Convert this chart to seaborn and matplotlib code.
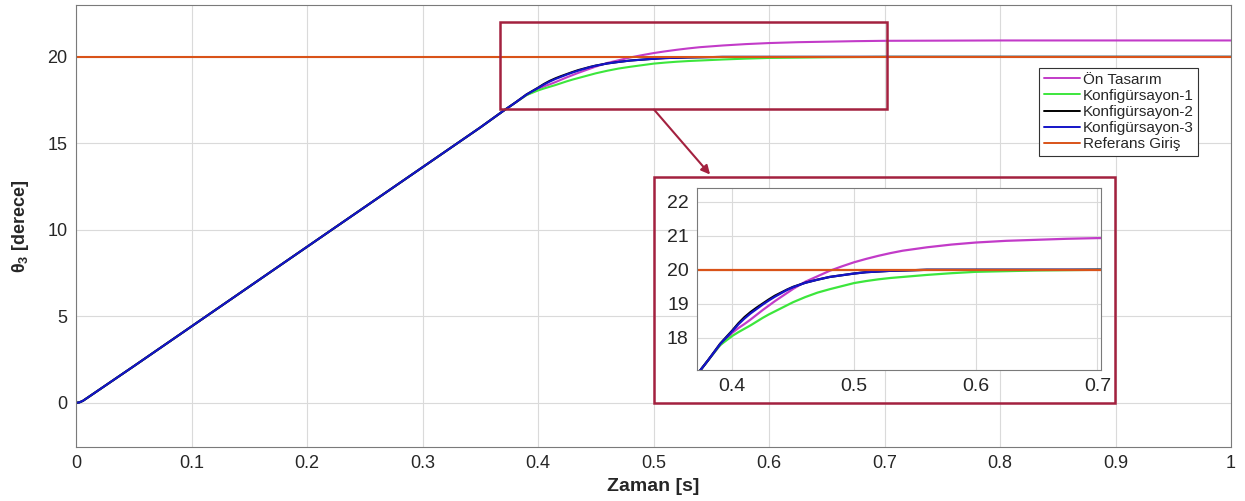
import matplotlib
matplotlib.use("Agg")
import matplotlib.pyplot as plt
import seaborn as sns
from matplotlib.patches import Rectangle
from matplotlib.ticker import FixedLocator, FuncFormatter

# ---------------- data ----------------
time_s = [0.000, 0.003, 0.006, 0.010, 0.050, 0.100, 0.150, 0.200, 0.250, 0.300,
          0.350, 0.370, 0.380, 0.390, 0.400, 0.405, 0.410, 0.415, 0.420, 0.425,
          0.430, 0.435, 0.440, 0.445, 0.450, 0.460, 0.470, 0.480, 0.490, 0.500,
          0.510, 0.520, 0.530, 0.540, 0.550, 0.560, 0.580, 0.600, 0.625, 0.650,
          0.675, 0.700, 0.750, 0.800, 0.900, 1.000]

ramp_part = [0.00, 0.03, 0.12, 0.30, 2.12, 4.42, 6.72, 9.02, 11.32, 13.62,
             15.92, 16.88, 17.34]

on_tasarim = ramp_part + [
    17.79, 18.15, 18.29, 18.41, 18.54, 18.68, 18.82, 18.95, 19.08, 19.20,
    19.32, 19.44, 19.65, 19.81, 19.97, 20.10, 20.22, 20.32, 20.41, 20.49,
    20.56, 20.61, 20.66, 20.74, 20.80, 20.85, 20.88, 20.91, 20.93, 20.94,
    20.95, 20.95, 20.95]

konfig_1 = ramp_part + [
    17.79, 18.06, 18.17, 18.27, 18.37, 18.48, 18.59, 18.69, 18.78, 18.87,
    18.96, 19.05, 19.20, 19.33, 19.43, 19.52, 19.61, 19.67, 19.72, 19.76,
    19.79, 19.82, 19.85, 19.90, 19.94, 19.96, 19.98, 19.99, 20.00, 20.00,
    20.00, 20.00, 20.00]

konfig_2 = ramp_part + [
    17.83, 18.22, 18.43, 18.61, 18.76, 18.89, 19.01, 19.13, 19.24, 19.33,
    19.42, 19.50, 19.62, 19.71, 19.79, 19.84, 19.89, 19.93, 19.95, 19.97,
    19.98, 19.99, 20.00, 20.00, 20.00, 20.00, 20.00, 20.00, 20.00, 20.00,
    20.00, 20.00, 20.00]

konfig_3 = ramp_part + [
    17.82, 18.20, 18.40, 18.57, 18.72, 18.85, 18.98, 19.10, 19.21, 19.31,
    19.41, 19.49, 19.62, 19.71, 19.79, 19.84, 19.89, 19.93, 19.95, 19.97,
    19.98, 19.99, 20.00, 20.00, 20.00, 20.00, 20.00, 20.00, 20.00, 20.00,
    20.00, 20.00, 20.00]

ref_time = [0.0, 1.0]
ref_value = [20.0, 20.0]

series_labels = ["Ön Tasarım", "Konfigürsayon-1", "Konfigürsayon-2",
                 "Konfigürsayon-3", "Referans Giriş"]
series_colors = ["#C23BC8", "#3CE63C", "#000000", "#1414C8", "#D95319"]

main_xticks = [0, 0.1, 0.2, 0.3, 0.4, 0.5, 0.6, 0.7, 0.8, 0.9, 1.0]
main_yticks = [0, 5, 10, 15, 20]
inset_xticks = [0.4, 0.5, 0.6, 0.7]
inset_yticks = [18, 19, 20, 21, 22]

# ---------------- style ----------------
sns.set_theme(style="whitegrid")
plt.rcParams['font.family'] = ['Liberation Sans', 'DejaVu Sans']
plt.rcParams['mathtext.fontset'] = 'custom'
plt.rcParams['mathtext.rm'] = 'Liberation Sans'
plt.rcParams['mathtext.bf'] = 'Liberation Sans:bold'

box_color = "#A3213F"
grid_color = "#DADADA"
spine_color = "#7A7A7A"
tick_color = "#262626"

fig = plt.figure(figsize=(12.45, 5.01), dpi=100)
ax = fig.add_axes([76/1245, 1 - 447/501, (1231 - 76)/1245, (447 - 5)/501])
ax.set_facecolor("white")

series_y = [on_tasarim, konfig_1, konfig_2, konfig_3]


def draw_all(target, lw):
    for yv, lab, col in zip(series_y, series_labels[:4], series_colors[:4]):
        sns.lineplot(x=time_s, y=yv, ax=target, color=col, lw=lw, label=lab,
                     sort=False, estimator=None, legend=False)
    sns.lineplot(x=ref_time, y=ref_value, ax=target, color=series_colors[4],
                 lw=lw, label=series_labels[4], sort=False, estimator=None,
                 legend=False)


draw_all(ax, 1.5)

ax.set_xlim(0, 1)
ax.set_ylim(-2.55, 23.0)
ax.xaxis.set_major_locator(FixedLocator(main_xticks))
ax.yaxis.set_major_locator(FixedLocator(main_yticks))
fmt = FuncFormatter(lambda v, _: f"{v:g}")
ax.xaxis.set_major_formatter(fmt)
ax.yaxis.set_major_formatter(fmt)
ax.tick_params(axis='both', labelsize=13, colors=tick_color, direction='in',
               length=4, width=0.6, pad=6)
ax.grid(True, color=grid_color, lw=0.8)
for sp in ax.spines.values():
    sp.set_color(spine_color)
    sp.set_linewidth(0.8)

ax.set_xlabel("Zaman [s]", fontsize=14, fontweight='bold', color=tick_color,
              labelpad=4)
ax.set_ylabel(r"θ$_{\mathbf{3}}$ [derece]", fontsize=13, fontweight='bold',
              color=tick_color, labelpad=12)

# zoom box in main axes
ax.add_patch(Rectangle((0.367, 17.0), 0.335, 5.0, fill=False,
                       edgecolor=box_color, lw=1.8, zorder=5))

# arrow
ax.annotate("", xy=(0.549, 13.2), xytext=(0.5005, 16.95),
            arrowprops=dict(arrowstyle='-|>', color=box_color, lw=1.5,
                            mutation_scale=13, shrinkA=0, shrinkB=0),
            zorder=6)

# legend
handles = [plt.Line2D([], [], color=c, lw=1.4) for c in series_colors]
leg = ax.legend(handles, series_labels, loc='upper left',
                bbox_to_anchor=(1039/1245, 1 - 68/501),
                bbox_transform=fig.transFigure, fontsize=11,
                frameon=True, fancybox=False, edgecolor='#333333',
                framealpha=1, borderpad=0.3, labelspacing=0.14,
                handlelength=2.4, handletextpad=0.15, borderaxespad=0)
leg.get_frame().set_linewidth(0.8)

# outer frame of the inset
fig.add_artist(Rectangle((654/1245, 1 - 403/501), (1115 - 654)/1245,
                         (403 - 177)/501, transform=fig.transFigure,
                         fill=False, edgecolor=box_color, lw=1.8, zorder=10))

# inset axes
axin = fig.add_axes([697/1245, 1 - 370/501, (1101 - 697)/1245, (370 - 188)/501])
axin.set_facecolor("white")
draw_all(axin, 1.6)
axin.set_xlim(0.371, 0.703)
axin.set_ylim(17.06, 22.4)
axin.xaxis.set_major_locator(FixedLocator(inset_xticks))
axin.yaxis.set_major_locator(FixedLocator(inset_yticks))
axin.xaxis.set_major_formatter(fmt)
axin.yaxis.set_major_formatter(fmt)
axin.tick_params(axis='both', labelsize=14, colors=tick_color,
                 direction='in', length=3, width=0.6, pad=6)
axin.grid(True, color=grid_color, lw=0.8)
axin.set_xlabel("")
axin.set_ylabel("")
for sp in axin.spines.values():
    sp.set_color(spine_color)
    sp.set_linewidth(0.8)

fig.savefig("out.png", dpi=100)
